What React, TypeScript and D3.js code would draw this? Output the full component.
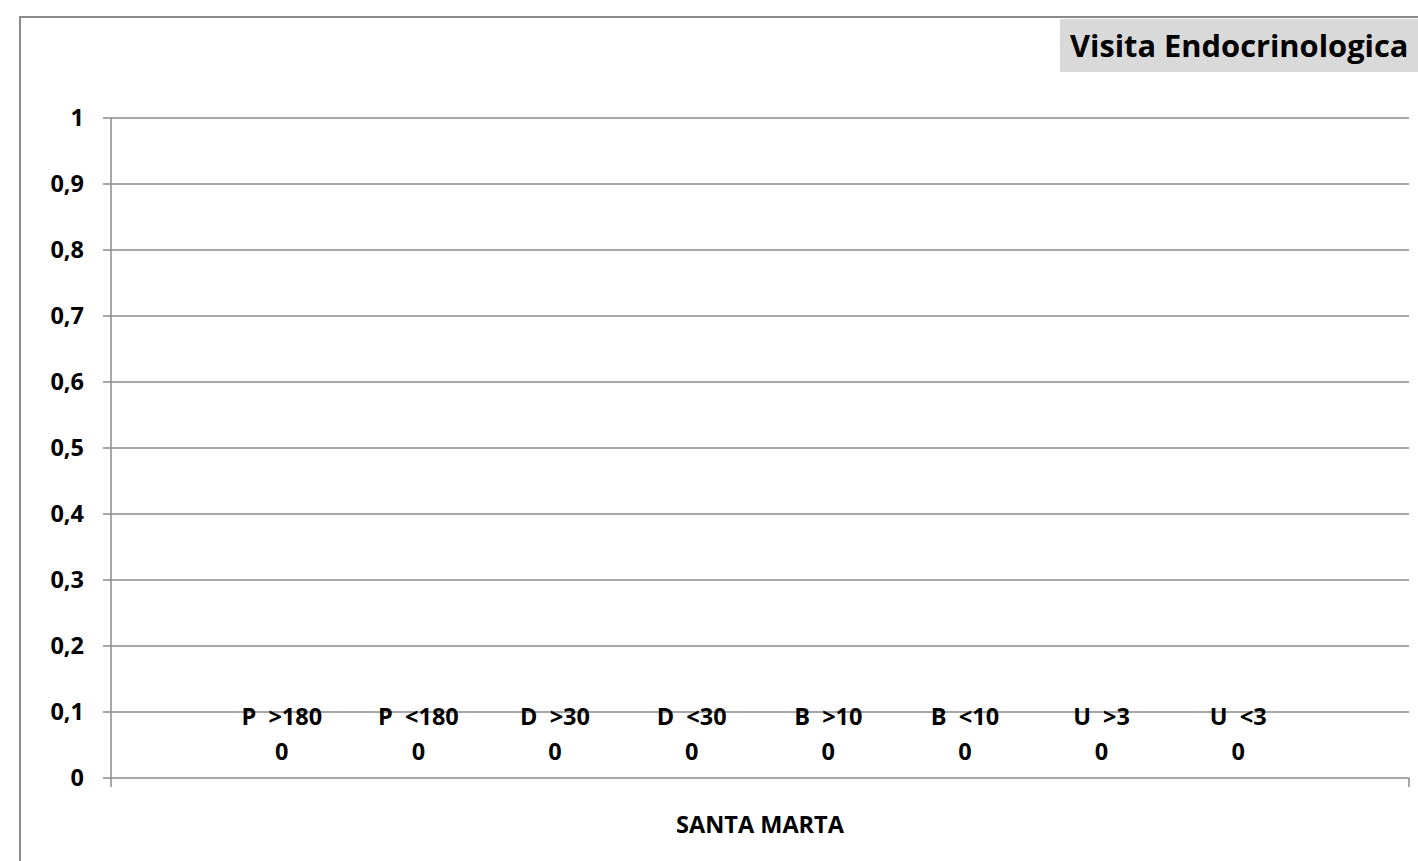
import React, { useEffect } from "react";
import * as d3 from "d3";

const categories = ["SANTA MARTA"];
const seriesNames = ["P  >180", "P  <180", "D  >30", "D  <30", "B  >10", "B  <10", "U  >3", "U  <3"];
const seriesValues = [0, 0, 0, 0, 0, 0, 0, 0];
const yTicks = [0, 0.1, 0.2, 0.3, 0.4, 0.5, 0.6, 0.7, 0.8, 0.9, 1];
const title = "Visita Endocrinologica";

const W = 1418;
const H = 861;
const FONT = "'Open Sans', 'DejaVu Sans', sans-serif";
const GRID = "#8a8a8a";
const LABEL_SIZE = 23.5;

const itLocale = d3.formatLocale({ decimal: ",", thousands: ".", grouping: [3], currency: ["", "€"] });
const fmt = itLocale.format(".1~f");

export default function App() {
  useEffect(() => {
    document.body.style.margin = "0";
  }, []);

  const left = 111;
  const right = 1409;
  const top = 118;
  const bottom = 778;

  const y = d3.scaleLinear().domain([0, 1]).range([bottom, top]);
  const x0 = d3.scaleBand().domain(categories).range([left, right]).paddingInner(0).paddingOuter(0);
  // Excel gap width 150% -> outer padding of 0.75 series width each side
  const n = seriesNames.length;
  const bw = x0.bandwidth();
  const sw = bw / (n + 1.5);
  const x1 = d3
    .scaleBand()
    .domain(seriesNames)
    .range([0.75 * sw, bw - 0.75 * sw])
    .padding(0);

  return (
    <svg width={W} height={H} style={{ display: "block", background: "#fff" }}>
      {/* outer chart border (extends past view) */}
      <rect x={20} y={17} width={W} height={H} fill="none" stroke={GRID} strokeWidth={2} />
      {/* title */}
      <rect x={1060} y={19} width={W - 1060} height={53} fill="#d9d9d9" />
      <text x={1070} y={57} fontFamily={FONT} fontWeight="bold" fontSize={30.8} fill="#000">
        {title}
      </text>

      {/* gridlines and y ticks */}
      {yTicks.map((t) => (
        <g key={t}>
          <line x1={103} x2={right} y1={Math.round(y(t))} y2={Math.round(y(t))} stroke={GRID} strokeWidth={1.5} />
          <text
            x={84}
            y={y(t)}
            dy="0.36em"
            textAnchor="end"
            fontFamily={FONT}
            fontWeight="bold"
            fontSize={LABEL_SIZE}
            fill="#000"
          >
            {fmt(t)}
          </text>
        </g>
      ))}
      {/* y axis */}
      <line x1={left} x2={left} y1={top} y2={787} stroke={GRID} strokeWidth={1.5} />
      {/* category tick at right end */}
      <line x1={right} x2={right} y1={bottom} y2={787} stroke={GRID} strokeWidth={1.5} />

      {/* bars (all zero) and data labels */}
      {categories.map((c) => (
        <g key={c} transform={`translate(${x0(c)},0)`}>
          {seriesNames.map((s, i) => {
            const v = seriesValues[i];
            const cx = (x1(s) as number) + x1.bandwidth() / 2;
            const yt = y(v);
            return (
              <g key={s}>
                <rect x={x1(s)} y={yt} width={x1.bandwidth()} height={bottom - yt} fill="#4f81bd" />
                <text
                  x={cx}
                  y={yt - 53}
                  textAnchor="middle"
                  fontFamily={FONT}
                  fontWeight="bold"
                  fontSize={LABEL_SIZE}
                  fill="#000"
                  style={{ whiteSpace: "pre" }}
                >
                  {s}
                </text>
                <text
                  x={cx}
                  y={yt - 18}
                  textAnchor="middle"
                  fontFamily={FONT}
                  fontWeight="bold"
                  fontSize={LABEL_SIZE}
                  fill="#000"
                >
                  {String(v)}
                </text>
              </g>
            );
          })}
          <text
            x={bw / 2}
            y={833}
            textAnchor="middle"
            fontFamily={FONT}
            fontWeight="bold"
            fontSize={LABEL_SIZE}
            fill="#000"
          >
            {c}
          </text>
        </g>
      ))}
    </svg>
  );
}
